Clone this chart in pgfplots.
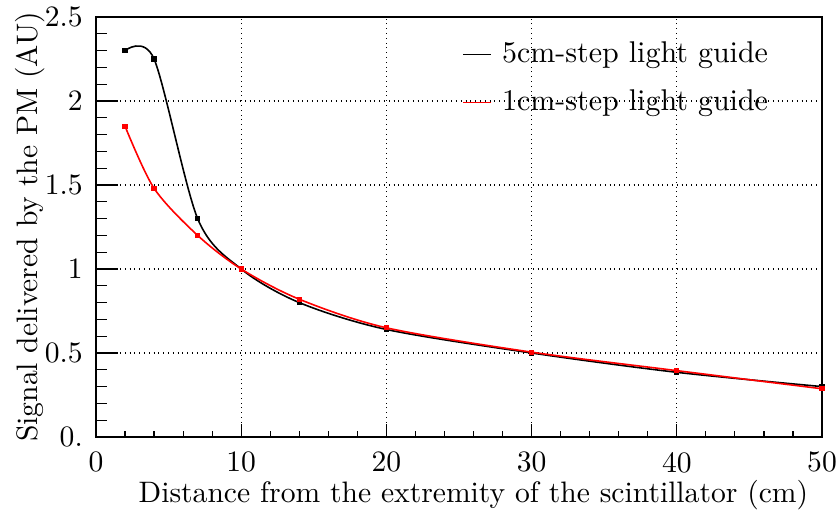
\documentclass[border=0pt]{standalone}
\usepackage{fontspec}
\setmainfont{lmroman10-regular.otf}
\usepackage{pgfplots}
\pgfplotsset{compat=1.18}
\pgfplotsset{shortline/.style={legend image code/.code={\draw[##1,mark=none] (0pt,0pt) -- (14pt,0pt);}}}
\begin{document}
\fontsize{14.8}{18}\selectfont
\begin{tikzpicture}
\begin{axis}[
  name=ax,
  at={(0,0)}, anchor=south west,
  scale only axis, width=363pt, height=210pt,
  xmin=0, xmax=50, ymin=0, ymax=2.5,
  axis line style={line width=0.8pt},
  xtick={0,10,20,30,40,50},
  ytick={0,0.5,1,1.5,2,2.5},
  yticklabels={0.,0.5,1,1.5,2,2.5},
  /pgf/number format/assume math mode=true,
  minor x tick num=4, minor y tick num=4,
  tick align=inside, tick pos=left,
  xmajorgrids, ymajorgrids,
  major grid style={black, dotted, line width=0.6pt},
  xtick style={black, line width=0.6pt, /pgfplots/major tick length=6.5pt, /pgfplots/minor tick length=3pt},
  ytick style={black, line width=0.6pt, /pgfplots/major tick length=11pt, /pgfplots/minor tick length=5.5pt},
  tick label style={font=\fontsize{14.8}{18}\selectfont},
  xticklabel style={yshift=-2.5pt},
  yticklabel style={xshift=-1.5pt},
  label style={font=\fontsize{14.8}{18}\selectfont},
  xlabel={Distance from the extremity of the scintillator (cm)},
  ylabel={Signal delivered by the PM (AU)},
  xlabel style={at={(axis description cs:0.995,-0.155)}, anchor=base east},
  ylabel style={at={(axis description cs:-0.0909,0.5)}, anchor=center},
  shortline,
  legend style={draw=none, fill=none, at={(axis description cs:0.496,0.961)}, anchor=north west,
    font=\fontsize{15}{18}\selectfont, legend cell align=left, row sep=7.5pt, column sep=3pt},
]
\addplot[black, line width=0.8pt, smooth, mark=square*, mark size=0.9pt] coordinates {
  (2,2.30) (4,2.25) (7,1.30) (10,1.00) (14,0.80) (20,0.64) (30,0.50) (40,0.385) (50,0.30)
};
\addlegendentry{5cm-step light guide}
\addplot[red, line width=0.8pt, smooth, mark=square*, mark size=0.9pt] coordinates {
  (2,1.85) (4,1.48) (7,1.20) (10,1.00) (14,0.82) (20,0.65) (30,0.505) (40,0.395) (50,0.287)
};
\addlegendentry{1cm-step light guide}
\end{axis}
\pgfresetboundingbox
\path[use as bounding box] ([shift={(-48pt,-37.5pt)}]ax.south west) rectangle ([shift={(7pt,8.5pt)}]ax.north east);
\end{tikzpicture}
\end{document}
